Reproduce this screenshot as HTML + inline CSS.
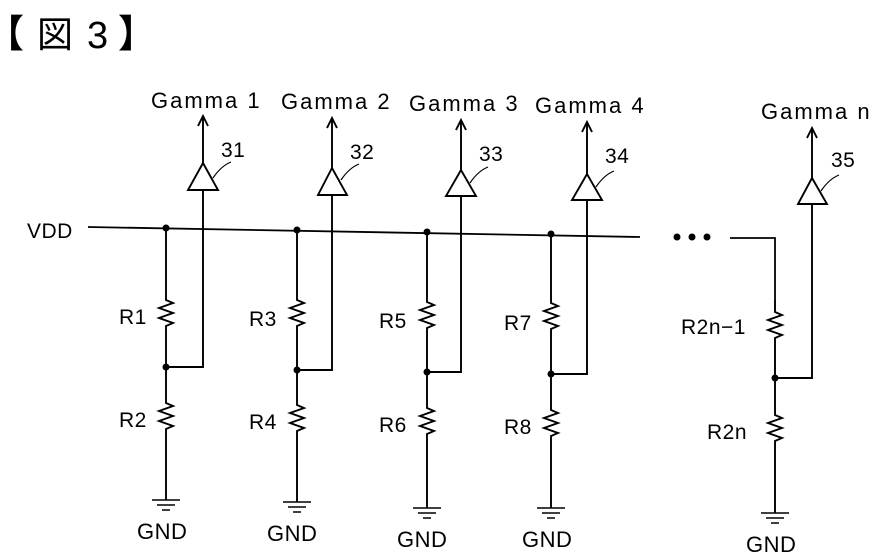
<!DOCTYPE html>
<html><head><meta charset="utf-8"><style>
html,body{margin:0;padding:0;background:#fff;}
svg{display:block;}
text{font-family:"Liberation Sans","Noto Sans CJK JP",sans-serif;fill:#000;}
</style></head><body>
<svg width="883" height="555" viewBox="0 0 883 555" xmlns="http://www.w3.org/2000/svg">
<text x="-14" y="47" font-size="38" font-weight="bold">【</text>
<text x="37" y="47" font-size="36">図</text>
<text x="87" y="48" font-size="38">3</text>
<text x="118" y="47" font-size="38" font-weight="bold">】</text>

<g stroke="#000" stroke-width="1.8" fill="none">
<path d="M88,227 L640,237"/>
<path d="M730,238 L775,238 L775,300"/>
</g>
<text x="27" y="238" font-size="21" letter-spacing="0.5">VDD</text>
<g fill="#000"><circle cx="677" cy="237" r="3.5"/><circle cx="692" cy="237" r="3.5"/><circle cx="707" cy="237" r="3.5"/></g>

<g stroke="#000" stroke-width="1.9" fill="none">
<path d="M166,228 L166,300 l7,3 l-14,5 l14,5 l-14,5 l14,5 l-7,3 L166,367 L166,403 l7,3 l-14,5 l14,5 l-14,5 l14,5 l-7,3 L166,500"/>
<path d="M166,367 L203,367 L203,190"/>
<path d="M188,190 L218,190 L203,163 Z"/>
<path d="M203,163 L203,116 M198,126 L203,116 L208,126"/>
<path d="M213,178 q8,-12 18,-16" stroke-width="1.2"/>
<path d="M297,230 L297,300 l7,3 l-14,5 l14,5 l-14,5 l14,5 l-7,3 L297,370 L297,405 l7,3 l-14,5 l14,5 l-14,5 l14,5 l-7,3 L297,502"/>
<path d="M297,370 L332,370 L332,195"/>
<path d="M318,195 L347,195 L332,168 Z"/>
<path d="M332,168 L332,118 M327,128 L332,118 L337,128"/>
<path d="M341,180 q8,-12 18,-16" stroke-width="1.2"/>
<path d="M427,232 L427,302 l7,3 l-14,5 l14,5 l-14,5 l14,5 l-7,3 L427,372 L427,408 l7,3 l-14,5 l14,5 l-14,5 l14,5 l-7,3 L427,508"/>
<path d="M427,372 L461,372 L461,196"/>
<path d="M446,196 L476,196 L461,170 Z"/>
<path d="M461,170 L461,120 M456,130 L461,120 L466,130"/>
<path d="M470,183 q8,-12 18,-16" stroke-width="1.2"/>
<path d="M551,234 L551,303 l7,3 l-14,5 l14,5 l-14,5 l14,5 l-7,3 L551,374 L551,410 l7,3 l-14,5 l14,5 l-14,5 l14,5 l-7,3 L551,508"/>
<path d="M551,374 L587,374 L587,200"/>
<path d="M572,200 L602,200 L587,174 Z"/>
<path d="M587,174 L587,122 M582,132 L587,122 L592,132"/>
<path d="M596,187 q8,-12 18,-16" stroke-width="1.2"/>
<path d="M775,300 L775,312 l7,3 l-14,5 l14,5 l-14,5 l14,5 l-7,3 L775,378 L775,415 l7,3 l-14,5 l14,5 l-14,5 l14,5 l-7,3 L775,513"/>
<path d="M775,378 L812,378 L812,204"/>
<path d="M798,204 L827,204 L812,178 Z"/>
<path d="M812,178 L812,128 M807,138 L812,128 L817,138"/>
<path d="M821,191 q8,-12 18,-16" stroke-width="1.2"/>
<g stroke-width="1.6">
<path d="M152,500 h28 M157,505 h18 M162,510 h8"/>
<path d="M283,502 h28 M288,507 h18 M293,512 h8"/>
<path d="M413,508 h28 M418,513 h18 M423,518 h8"/>
<path d="M537,508 h28 M542,513 h18 M547,518 h8"/>
<path d="M761,513 h28 M766,518 h18 M771,523 h8"/>
</g>
</g>
<g fill="#000">
<circle cx="166" cy="228" r="3.5"/><circle cx="297" cy="230" r="3.5"/><circle cx="427" cy="232" r="3.5"/><circle cx="551" cy="234" r="3.5"/>
<circle cx="166" cy="367" r="3.5"/><circle cx="297" cy="370" r="3.5"/><circle cx="427" cy="372" r="3.5"/><circle cx="551" cy="374" r="3.5"/><circle cx="775" cy="378" r="3.5"/>
</g>
<g font-size="22" letter-spacing="2">
<text x="151" y="108">Gamma 1</text>
<text x="281" y="109">Gamma 2</text>
<text x="409" y="111">Gamma 3</text>
<text x="535" y="113">Gamma 4</text>
<text x="761" y="119">Gamma n</text>
</g>
<g font-size="21" letter-spacing="0.5">
<text x="221" y="157">31</text>
<text x="350" y="159">32</text>
<text x="479" y="161">33</text>
<text x="605" y="163">34</text>
<text x="831" y="167">35</text>
<text x="119" y="324">R1</text>
<text x="249" y="326">R3</text>
<text x="379" y="328">R5</text>
<text x="504" y="330">R7</text>
<text x="681" y="334">R2n−1</text>
<text x="119" y="427">R2</text>
<text x="249" y="429">R4</text>
<text x="379" y="432">R6</text>
<text x="504" y="434">R8</text>
<text x="707" y="439">R2n</text>
</g>
<g font-size="22" letter-spacing="0.5">
<text x="137" y="539">GND</text>
<text x="267" y="541">GND</text>
<text x="397" y="547">GND</text>
<text x="522" y="547">GND</text>
<text x="746" y="552">GND</text>
</g>
</svg>
</body></html>
